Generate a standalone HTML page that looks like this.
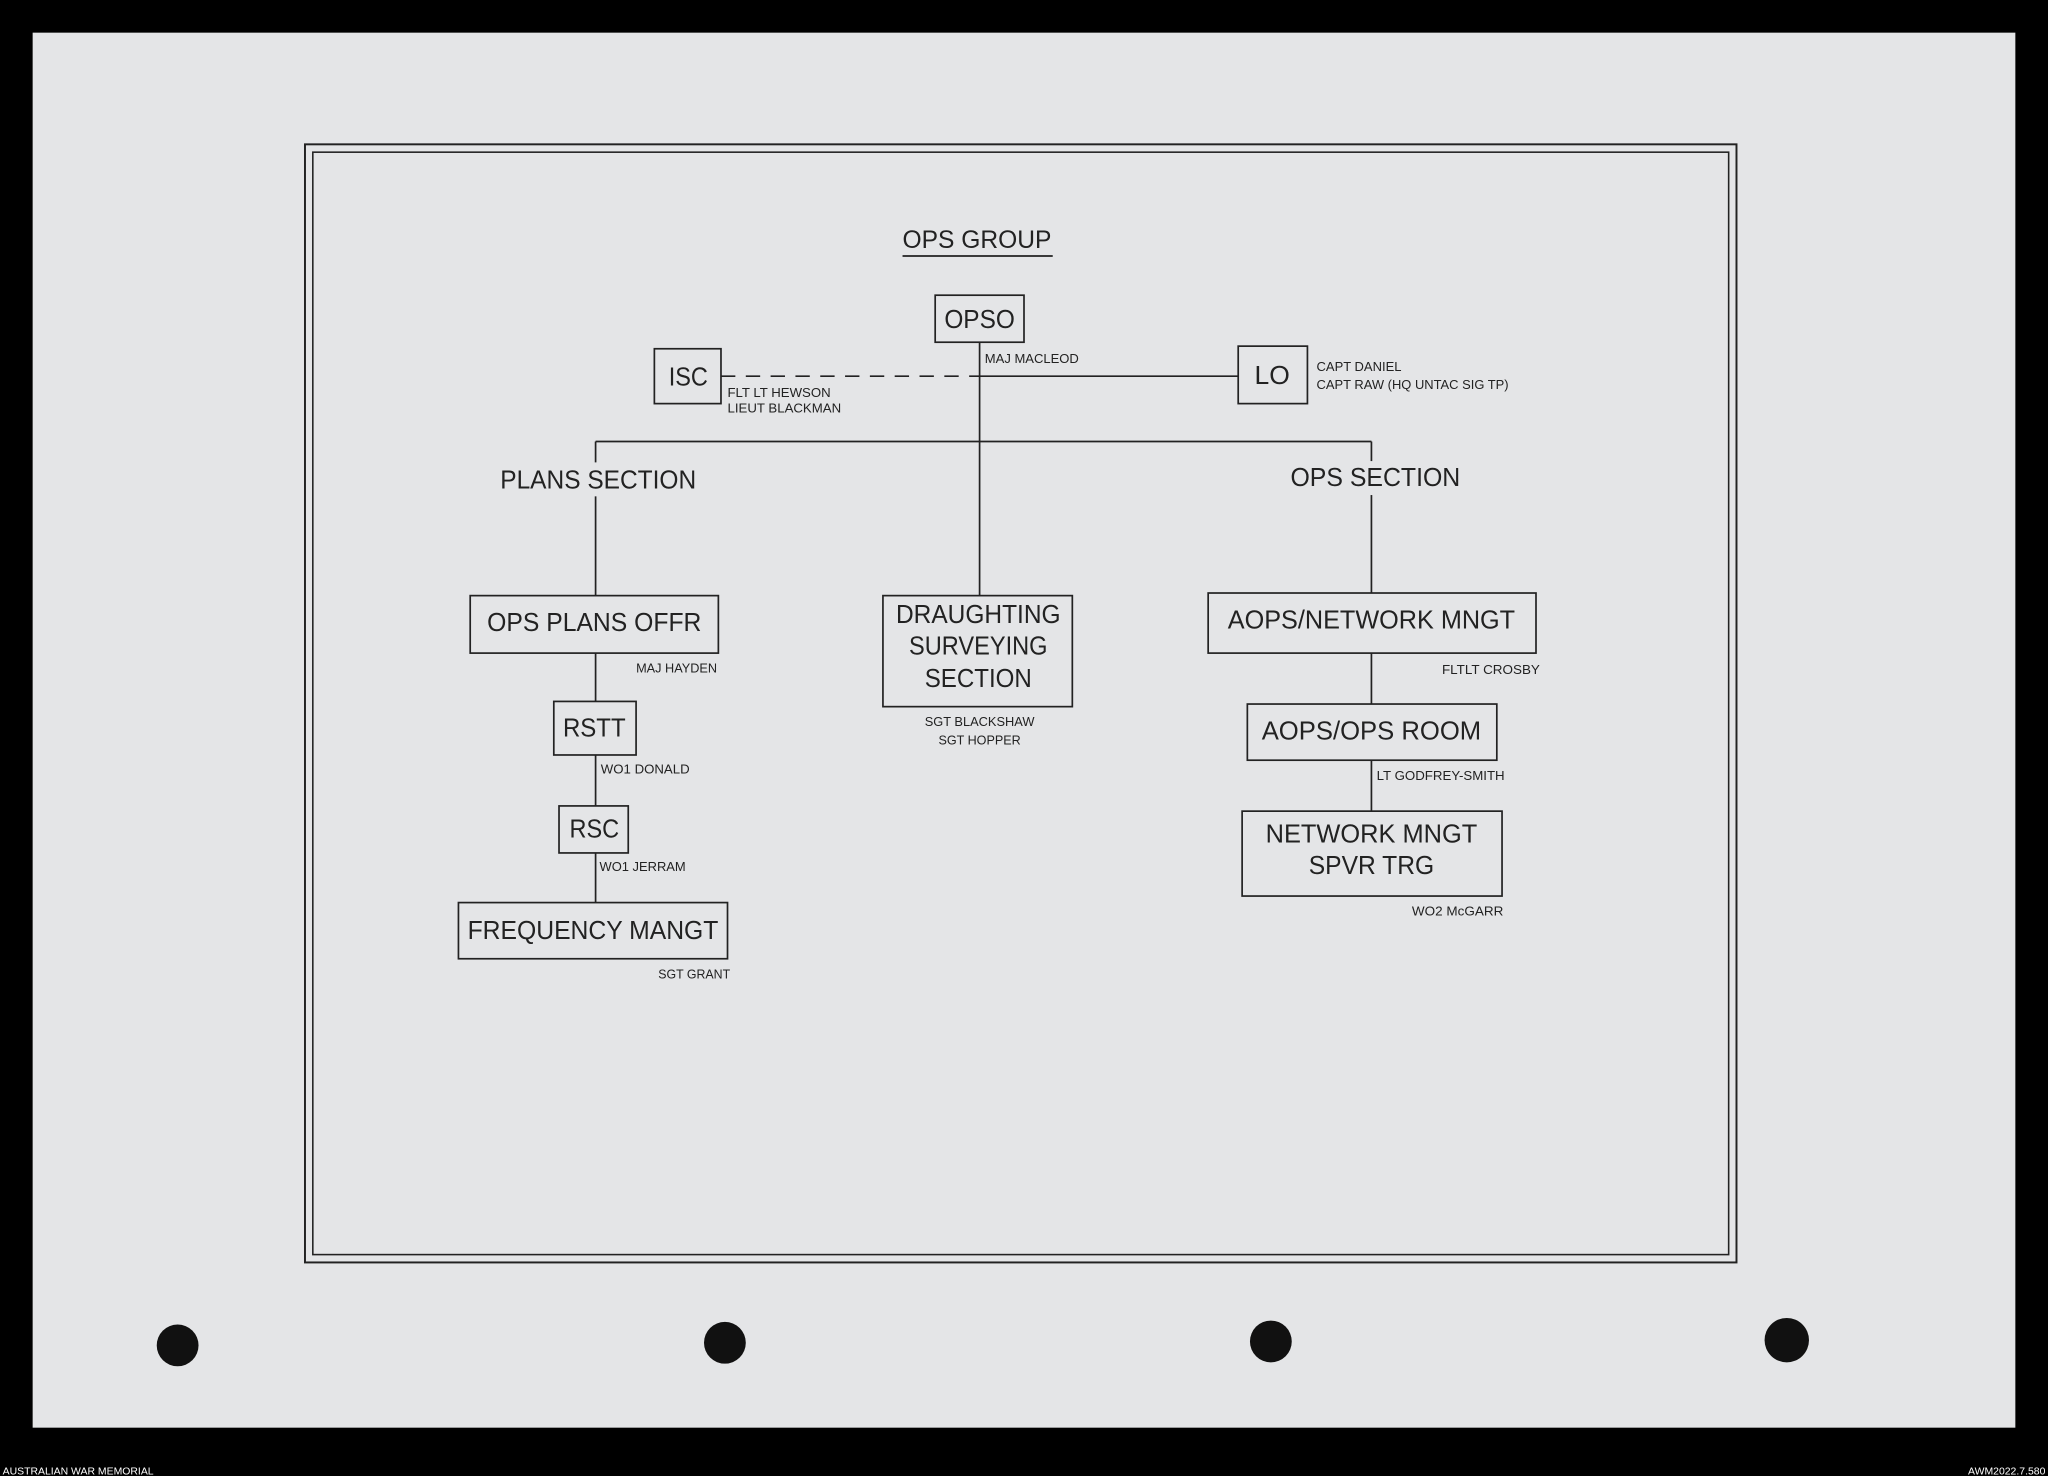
<!DOCTYPE html>
<html><head><meta charset="utf-8"><style>
html,body{margin:0;padding:0;background:#000;width:2048px;height:1476px;overflow:hidden}
svg{display:block}
text{font-family:"Liberation Sans",sans-serif;fill:#222}
.b{font-size:20px}
.s{font-size:10px}
rect.bx{fill:none;stroke:#222;stroke-width:1.3}
line{stroke:#222;stroke-width:1.3}
</style></head><body>
<svg width="2048" height="1476" viewBox="0 0 1568 1130" preserveAspectRatio="none">
<rect x="0" y="0" width="1568" height="1130" fill="#000"/>
<rect x="25" y="25" width="1518" height="1068" fill="#e4e5e7"/>
<text x="2" y="1129" style="font-size:8px;fill:#fff">AUSTRALIAN WAR MEMORIAL</text>
<text x="1566" y="1129" text-anchor="end" style="font-size:8px;fill:#fff">AWM2022.7.580</text>
<rect x="233.5" y="110.5" width="1096" height="856" fill="none" stroke="#222" stroke-width="1.5"/>
<rect x="239.5" y="116.5" width="1084" height="844" fill="none" stroke="#222" stroke-width="1.2"/>

<text x="748" y="190" class="b" text-anchor="middle" style="font-size:19px" textLength="114" lengthAdjust="spacingAndGlyphs">OPS GROUP</text>
<line x1="691" y1="196" x2="806" y2="196"/>

<rect class="bx" x="716" y="226" width="68" height="36"/>
<text x="750" y="251" class="b" text-anchor="middle" textLength="54" lengthAdjust="spacingAndGlyphs">OPSO</text>
<text x="754" y="278" class="s" textLength="72" lengthAdjust="spacingAndGlyphs">MAJ MACLEOD</text>

<rect class="bx" x="501" y="267" width="51" height="42"/>
<text x="527" y="295" class="b" text-anchor="middle" textLength="30" lengthAdjust="spacingAndGlyphs">ISC</text>
<line x1="552" y1="288" x2="750" y2="288" stroke-dasharray="11,8"/>
<line x1="750" y1="288" x2="948" y2="288"/>
<rect class="bx" x="948" y="265" width="53" height="44"/>
<text x="974" y="294" class="b" text-anchor="middle" textLength="27" lengthAdjust="spacingAndGlyphs">LO</text>
<text x="557" y="304" class="s" textLength="79" lengthAdjust="spacingAndGlyphs">FLT LT HEWSON</text>
<text x="557" y="316" class="s" textLength="87" lengthAdjust="spacingAndGlyphs">LIEUT BLACKMAN</text>
<text x="1008" y="284" class="s" textLength="65" lengthAdjust="spacingAndGlyphs">CAPT DANIEL</text>
<text x="1008" y="298" class="s" textLength="147" lengthAdjust="spacingAndGlyphs">CAPT RAW (HQ UNTAC SIG TP)</text>

<line x1="750" y1="262" x2="750" y2="456"/>
<line x1="456" y1="338" x2="1050" y2="338"/>
<line x1="456" y1="338" x2="456" y2="354"/>
<line x1="456" y1="380" x2="456" y2="456"/>
<line x1="1050" y1="338" x2="1050" y2="353"/>
<line x1="1050" y1="379" x2="1050" y2="454"/>
<text x="458" y="374" class="b" text-anchor="middle" textLength="150" lengthAdjust="spacingAndGlyphs">PLANS SECTION</text>
<text x="1053" y="372" class="b" text-anchor="middle" textLength="130" lengthAdjust="spacingAndGlyphs">OPS SECTION</text>

<rect class="bx" x="360" y="456" width="190" height="44"/>
<text x="455" y="483" class="b" text-anchor="middle" textLength="164" lengthAdjust="spacingAndGlyphs">OPS PLANS OFFR</text>
<text x="487" y="515" class="s" textLength="62" lengthAdjust="spacingAndGlyphs">MAJ HAYDEN</text>
<line x1="456" y1="500" x2="456" y2="537"/>
<rect class="bx" x="424" y="537" width="63" height="41"/>
<text x="455" y="564" class="b" text-anchor="middle" textLength="48" lengthAdjust="spacingAndGlyphs">RSTT</text>
<text x="460" y="592" class="s" textLength="68" lengthAdjust="spacingAndGlyphs">WO1 DONALD</text>
<line x1="456" y1="578" x2="456" y2="617"/>
<rect class="bx" x="428" y="617" width="53" height="36"/>
<text x="455" y="641" class="b" text-anchor="middle" textLength="38" lengthAdjust="spacingAndGlyphs">RSC</text>
<text x="459" y="667" class="s" textLength="66" lengthAdjust="spacingAndGlyphs">WO1 JERRAM</text>
<line x1="456" y1="653" x2="456" y2="691"/>
<rect class="bx" x="351" y="691" width="206" height="43"/>
<text x="454" y="719" class="b" text-anchor="middle" textLength="192" lengthAdjust="spacingAndGlyphs">FREQUENCY MANGT</text>
<text x="504" y="749" class="s" textLength="55" lengthAdjust="spacingAndGlyphs">SGT GRANT</text>

<rect class="bx" x="676" y="456" width="145" height="85"/>
<text x="749" y="477" class="b" text-anchor="middle" textLength="126" lengthAdjust="spacingAndGlyphs">DRAUGHTING</text>
<text x="749" y="501" class="b" text-anchor="middle" textLength="106" lengthAdjust="spacingAndGlyphs">SURVEYING</text>
<text x="749" y="526" class="b" text-anchor="middle" textLength="82" lengthAdjust="spacingAndGlyphs">SECTION</text>
<text x="750" y="556" class="s" text-anchor="middle" textLength="84" lengthAdjust="spacingAndGlyphs">SGT BLACKSHAW</text>
<text x="750" y="570" class="s" text-anchor="middle" textLength="63" lengthAdjust="spacingAndGlyphs">SGT HOPPER</text>

<rect class="bx" x="925" y="454" width="251" height="46"/>
<text x="1050" y="481" class="b" text-anchor="middle" textLength="220" lengthAdjust="spacingAndGlyphs">AOPS/NETWORK MNGT</text>
<text x="1104" y="516" class="s" textLength="75" lengthAdjust="spacingAndGlyphs">FLTLT CROSBY</text>
<line x1="1050" y1="500" x2="1050" y2="539"/>
<rect class="bx" x="955" y="539" width="191" height="43"/>
<text x="1050" y="566" class="b" text-anchor="middle" textLength="168" lengthAdjust="spacingAndGlyphs">AOPS/OPS ROOM</text>
<text x="1054" y="597" class="s" textLength="98" lengthAdjust="spacingAndGlyphs">LT GODFREY-SMITH</text>
<line x1="1050" y1="582" x2="1050" y2="621"/>
<rect class="bx" x="951" y="621" width="199" height="65"/>
<text x="1050" y="645" class="b" text-anchor="middle" textLength="162" lengthAdjust="spacingAndGlyphs">NETWORK MNGT</text>
<text x="1050" y="669" class="b" text-anchor="middle" textLength="96" lengthAdjust="spacingAndGlyphs">SPVR TRG</text>
<text x="1081" y="701" class="s" textLength="70" lengthAdjust="spacingAndGlyphs">WO2 McGARR</text>

<circle cx="136" cy="1030" r="16" fill="#111"/>
<circle cx="555" cy="1028" r="16" fill="#111"/>
<circle cx="973" cy="1027" r="16" fill="#111"/>
<circle cx="1368" cy="1026" r="17" fill="#111"/>
</svg>
</body></html>
